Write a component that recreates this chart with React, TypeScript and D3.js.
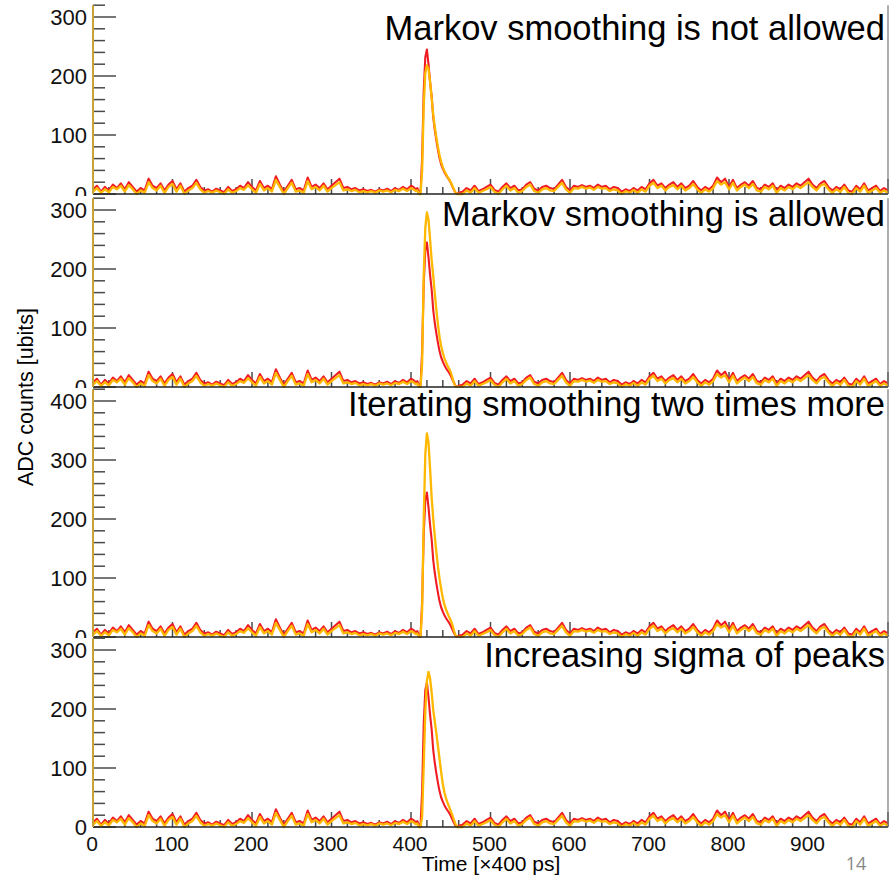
import React from "react";
import * as d3 from "d3";

// ---- data -------------------------------------------------------------
// Noise sampled every 5 time units, before and after the pulse window.
const noiseTimesBefore = d3.range(0, 401, 5);
const noiseTimesAfter = d3.range(465, 1001, 5);

const redBefore = [
  8, 14, 4, 12, 6, 16, 10, 18, 8, 20, 12, 4, 10, 6, 26, 14, 10, 18, 6, 16,
  22, 8, 18, 4, 10, 14, 24, 12, 6, 8, 4, 9, 6, 3, 12, 5, 8, 14, 10, 20,
  12, 6, 22, 10, 14, 8, 30, 16, 4, 14, 24, 8, 10, 6, 28, 12, 16, 10, 18, 8,
  14, 20, 26, 10, 12, 8, 10, 6, 8, 5, 7, 4, 8, 6, 9, 5, 10, 7, 12, 8,
  14,
];
const redAfter = [
  4, 10, 6, 14, 5, 8, 12,
  16, 7, 4, 12, 18, 10, 14, 6, 8, 16, 20, 9, 6, 12, 14, 10, 8, 16, 24, 12,
  6, 14, 12, 15, 12, 14, 10, 16, 12, 14, 8, 12, 10, 4, 8, 5, 10, 6, 12, 8,
  18, 24, 14, 18, 10, 16, 20, 12, 18, 10, 14, 22, 12, 6, 12, 8, 14, 28, 20, 26,
  12, 24, 10, 16, 20, 14, 22, 10, 8, 16, 12, 18, 6, 14, 10, 16, 12, 18, 14, 20,
  26, 16, 10, 18, 22, 12, 6, 12, 8, 16, 6, 4, 14, 8, 18, 6, 10, 14, 5, 10,
  6,
];
const yellowBefore = [
  4, 10, 2, 8, 3, 12, 8, 14, 4, 15, 8, 0, 6, 2, 20, 10, 6, 14, 2, 12,
  17, 4, 14, 0, 6, 10, 19, 8, 2, 5, 2, 6, 3, 0, 8, 2, 5, 10, 7, 15,
  8, 2, 17, 6, 10, 4, 24, 12, 0, 10, 19, 4, 6, 2, 22, 8, 12, 6, 14, 4,
  10, 15, 20, 6, 8, 5, 7, 3, 5, 3, 5, 2, 6, 4, 6, 3, 7, 5, 9, 5,
  10,
];
const yellowAfter = [
  0, 6, 2, 10, 2, 5, 8,
  12, 4, 0, 8, 14, 6, 10, 2, 5, 12, 16, 5, 2, 8, 10, 6, 5, 12, 19, 8,
  2, 10, 9, 12, 9, 11, 7, 12, 9, 10, 5, 8, 6, 0, 5, 2, 7, 2, 8, 4,
  14, 19, 10, 14, 6, 12, 15, 8, 14, 6, 10, 17, 8, 2, 8, 4, 10, 22, 16, 20,
  8, 19, 6, 12, 16, 10, 17, 6, 4, 12, 8, 14, 2, 10, 6, 12, 8, 14, 10, 15,
  20, 12, 6, 14, 17, 8, 2, 8, 4, 12, 2, 0, 10, 4, 14, 2, 6, 10, 2, 6,
  2,
];

// Pulse window, finer sampling.
const peakTimes = [
  403, 406, 408, 410, 412, 414, 416, 418, 420, 422, 424, 426, 428, 430, 432,
  434, 436, 438, 440, 442, 444, 446, 448, 450, 452, 454, 456, 458, 460,
];
const redPeak = [
  12, 8, 10, 3, 2, 60, 175, 232, 245, 220, 190, 165, 130, 108, 90, 74, 60, 50,
  43, 37, 32, 28, 24, 19, 13, 7, 2, 0, 2,
];
const yellowPeakNotAllowed = [
  8, 5, 6, 0, 0, 40, 150, 205, 218, 212, 190, 162, 134, 113, 95, 79, 65, 54,
  46, 39, 34, 29, 25, 20, 14, 8, 2, 0, 0,
];
const yellowPeakAllowed = [
  8, 5, 6, 0, 0, 40, 190, 270, 296, 284, 250, 215, 188, 158, 130, 105, 84, 69,
  58, 49, 42, 36, 31, 25, 16, 7, 1, 0, 0,
];
const yellowPeakIterated = [
  8, 5, 6, 0, 0, 45, 200, 310, 345, 330, 285, 236, 200, 170, 142, 118, 98, 81,
  66, 55, 47, 40, 34, 28, 21, 11, 3, 0, 0,
];
const yellowPeakSigma = [
  8, 5, 6, 0, 0, 18, 105, 195, 248, 263, 252, 228, 198, 178, 158, 136, 114, 92,
  73, 59, 49, 41, 34, 27, 20, 12, 5, 0, 0,
];

const panelTitles = [
  "Markov smoothing is not allowed",
  "Markov smoothing is allowed",
  "Iterating smoothing two times more",
  "Increasing sigma of peaks",
];
const panelYMax = [320, 320, 420, 320];
const yellowPeaks = [
  yellowPeakNotAllowed,
  yellowPeakAllowed,
  yellowPeakIterated,
  yellowPeakSigma,
];
const xTickLabels = [0, 100, 200, 300, 400, 500, 600, 700, 800, 900];

// ---- layout -----------------------------------------------------------
const W = 892;
const H = 876;
const X0 = 93;
const X1 = 888;
const PX_PER_COUNT = 0.59;
const panelBgTop = [0, 196, 388, 638];
const panelBottom = [194, 387, 637, 827];
const titleBaseline = [40, 226, 416, 667];

const RED = "#f01c24";
const YELLOW = "#ffb800";
const AXIS_GOLD = "#c9a233";
const TICK = "#4a4a4a";
const FONT = "'Liberation Sans', Arial, Helvetica, sans-serif";

type Pt = [number, number];

function buildSeries(before: number[], peak: number[], after: number[]): Pt[] {
  const pts: Pt[] = [];
  noiseTimesBefore.forEach((t, i) => pts.push([t, before[i]]));
  peakTimes.forEach((t, i) => pts.push([t, peak[i]]));
  noiseTimesAfter.forEach((t, i) => pts.push([t, after[i]]));
  return pts;
}

const x = d3.scaleLinear().domain([0, 1000]).range([X0, X1]);

function Panel({ idx }: { idx: number }) {
  const bottom = panelBottom[idx];
  const yMax = panelYMax[idx];
  const top = bottom - yMax * PX_PER_COUNT;
  const y = d3.scaleLinear().domain([0, yMax]).range([bottom, top]);
  const line = d3
    .line<Pt>()
    .x((d) => x(d[0]))
    .y((d) => y(d[1]));
  const red = buildSeries(redBefore, redPeak, redAfter);
  const yellow = buildSeries(yellowBefore, yellowPeaks[idx], yellowAfter);

  const yMinor = d3.range(0, yMax + 0.1, 20);
  const yMajor = d3.range(0, yMax + 0.1, 100);
  const xMinor = d3.range(0, 1000.1, 20);
  const bgBottom = idx < 3 ? panelBgTop[idx + 1] : H;
  const clipId = "panel-clip-" + idx;

  return (
    <g>
      <defs>
        <clipPath id={clipId}>
          <rect x={0} y={panelBgTop[idx]} width={W} height={bgBottom - panelBgTop[idx]} />
        </clipPath>
      </defs>
      <rect
        x={0}
        y={panelBgTop[idx]}
        width={W}
        height={bgBottom - panelBgTop[idx]}
        fill="#ffffff"
      />
      {/* y tick labels */}
      <g clipPath={`url(#${clipId})`}>
        {yMajor.map((v) => (
          <text
            key={"yl" + v}
            x={87}
            y={y(v) + 8}
            textAnchor="end"
            fontFamily={FONT}
            fontSize={22}
            fill="#111"
          >
            {v}
          </text>
        ))}
      </g>
      {/* y ticks */}
      {yMinor.map((v) => (
        <line
          key={"yt" + v}
          x1={X0}
          x2={X0 + (v % 100 === 0 ? 23 : 12)}
          y1={y(v)}
          y2={y(v)}
          stroke={TICK}
          strokeWidth={1.5}
        />
      ))}
      {/* x ticks */}
      {xMinor.map((v) => (
        <line
          key={"xt" + v}
          x1={x(v)}
          x2={x(v)}
          y1={bottom}
          y2={bottom - (v % 100 === 0 ? 15 : 7)}
          stroke={TICK}
          strokeWidth={1.5}
        />
      ))}
      <path d={line(red) ?? ""} fill="none" stroke={RED} strokeWidth={2.1} strokeLinejoin="round" />
      <path d={line(yellow) ?? ""} fill="none" stroke={YELLOW} strokeWidth={2.3} strokeLinejoin="round" />
      {/* frame */}
      <line x1={X0} x2={X1} y1={bottom} y2={bottom} stroke="#222" strokeWidth={1.6} />
      <line x1={X0} x2={X0} y1={top} y2={bottom} stroke={AXIS_GOLD} strokeWidth={2} />
      <line x1={X1} x2={X1} y1={top} y2={bottom} stroke="#777" strokeWidth={1.2} />
      <text
        x={885}
        y={titleBaseline[idx]}
        textAnchor="end"
        fontFamily={FONT}
        fontSize={34.5}
        fill="#000"
      >
        {panelTitles[idx]}
      </text>
      {idx === 3 &&
        xTickLabels.map((v) => (
          <text
            key={"xl" + v}
            x={x(v) - 1}
            y={851}
            textAnchor="middle"
            fontFamily={FONT}
            fontSize={21}
            fill="#111"
          >
            {v}
          </text>
        ))}
    </g>
  );
}

export default function App() {
  return (
    <svg
      width={W}
      height={H}
      viewBox={`0 0 ${W} ${H}`}
      style={{ position: "absolute", left: 0, top: 0, background: "#fff" }}
    >
      {[0, 1, 2, 3].map((i) => (
        <Panel key={i} idx={i} />
      ))}
      <text
        transform="translate(33,397) rotate(-90)"
        textAnchor="middle"
        fontFamily={FONT}
        fontSize={21.5}
        fill="#000"
      >
        ADC counts [ubits]
      </text>
      <text x={491} y={871} textAnchor="middle" fontFamily={FONT} fontSize={21} fill="#000">
        Time [×400 ps]
      </text>
      <text x={856} y={870} textAnchor="middle" fontFamily="'Open Sans', 'Noto Sans', sans-serif" fontSize={18} fill="#888">
        14
      </text>
    </svg>
  );
}
